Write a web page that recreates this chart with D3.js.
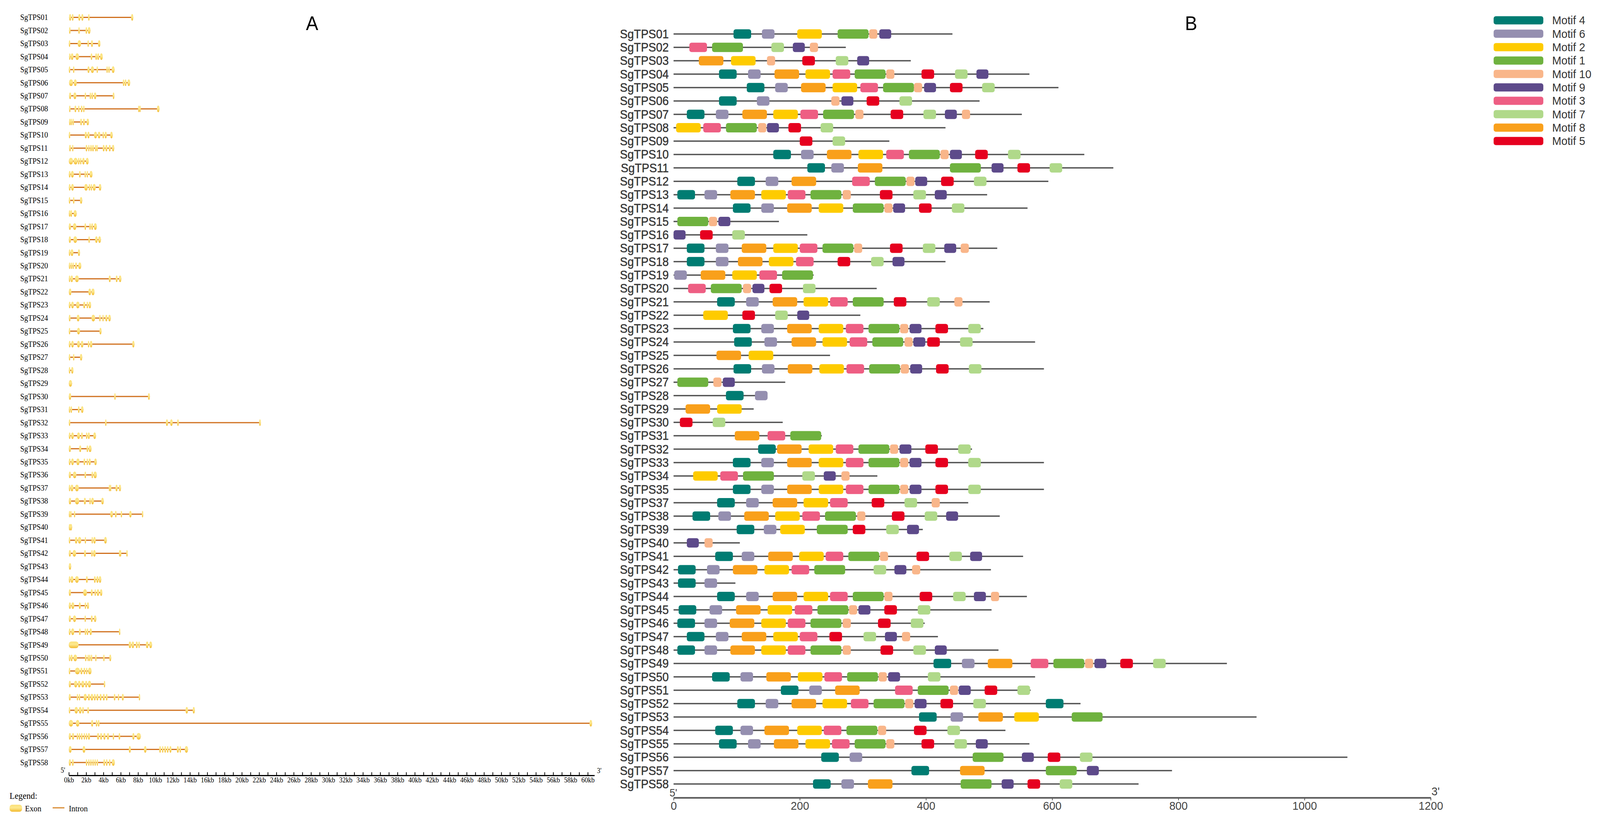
<!DOCTYPE html>
<html><head><meta charset="utf-8">
<script src="https://cdn.jsdelivr.net/npm/d3@7"></script>
<style>html,body{margin:0;padding:0;background:#fff;overflow:hidden;width:100%;height:100%;} svg{display:block;width:100vw;height:100vh;}</style>
</head><body>
<svg id="chart" viewBox="0 0 4347 2112" preserveAspectRatio="none"></svg>
<script>
// ---------------- DATA ----------------
const genesA = ["SgTPS01","SgTPS02","SgTPS03","SgTPS04","SgTPS05","SgTPS06","SgTPS07","SgTPS08","SgTPS09","SgTPS10",
"SgTPS11","SgTPS12","SgTPS13","SgTPS14","SgTPS15","SgTPS16","SgTPS17","SgTPS18","SgTPS19","SgTPS20",
"SgTPS21","SgTPS22","SgTPS23","SgTPS24","SgTPS25","SgTPS26","SgTPS27","SgTPS28","SgTPS29","SgTPS30",
"SgTPS31","SgTPS32","SgTPS33","SgTPS34","SgTPS35","SgTPS36","SgTPS37","SgTPS38","SgTPS39","SgTPS40",
"SgTPS41","SgTPS42","SgTPS43","SgTPS44","SgTPS45","SgTPS46","SgTPS47","SgTPS48","SgTPS49","SgTPS50",
"SgTPS51","SgTPS52","SgTPS53","SgTPS54","SgTPS55","SgTPS56","SgTPS57","SgTPS58"];

// exon [start, end] in kb, one list per gene (panel A)
const exonsA = [
[[0.03,0.27],[0.34,0.55],[1.09,1.34],[1.44,1.69],[2.23,2.36],[7.2,7.45]],
[[0.03,0.1],[1.09,1.27],[1.93,2.12],[2.19,2.5]],
[[0,0.1],[1.02,1.41],[2.15,2.29],[2.56,2.79],[3.37,3.65]],
[[0.03,0.16],[0.23,0.53],[0.77,1.17],[2.52,2.72],[3.06,3.26],[3.28,3.51],[3.61,3.92]],
[[0,0.1],[0.48,0.6],[2.15,2.4],[2.54,2.91],[3.2,3.35],[4.34,4.48],[4.56,4.72],[4.96,5.29]],
[[0.03,0.48],[0.58,0.91],[6.24,6.41],[6.45,6.67],[6.78,7.09]],
[[0.03,0.27],[0.53,0.87],[1.83,2.0],[2.4,2.54],[2.61,2.8],[2.9,3.18],[5.07,5.27]],
[[0.03,0.13],[0.65,0.87],[1.07,1.24],[1.38,1.58],[1.65,1.81],[8.0,8.09],[8.15,8.26],[10.19,10.48]],
[[0.03,0.13],[0.2,0.31],[0.41,0.58],[1.31,1.52],[1.63,1.86],[2.05,2.33]],
[[0,0.1],[1.83,2.09],[2.15,2.4],[2.91,3.26],[3.35,3.65],[3.89,4.07],[4.14,4.39],[4.79,5.07]],
[[0.03,0.24],[0.37,0.53],[1.93,2.15],[2.23,2.4],[2.47,2.66],[2.69,2.9],[3.01,3.11],[3.18,3.33],[3.91,4.14],[4.22,4.46],[4.61,4.85],[4.99,5.25]],
[[0,0.48],[0.55,1.01],[1.05,1.24],[1.29,1.44],[1.55,1.83],[1.97,2.29]],
[[0,0.2],[0.24,0.58],[1.17,1.38],[1.81,1.98],[2.05,2.23],[2.4,2.74]],
[[0,0.2],[0.27,0.58],[1.79,2.19],[2.29,2.47],[2.52,2.69],[2.76,3.11],[3.47,3.75]],
[[0,0.07],[0.48,0.58],[1.29,1.55]],
[[0,0.09],[0.17,0.38],[0.55,0.91]],
[[0,0.24],[0.48,0.87],[1.81,2.0],[2.37,2.52],[2.59,2.8],[2.9,3.23]],
[[0,0.24],[0.53,0.95],[2.26,2.4],[3.04,3.33],[3.4,3.71]],
[[0,0.06],[0.2,0.53],[1.05,1.29]],
[[0,0.09],[0.2,0.34],[0.41,0.55],[0.72,0.95],[1.09,1.44]],
[[0,0.13],[0.2,0.48],[0.72,1.15],[4.61,4.85],[5.42,5.64],[5.79,6.07]],
[[0,0.3],[2.26,2.57],[2.62,2.97]],
[[0,0.2],[0.27,0.58],[0.84,1.24],[1.66,1.9],[2.05,2.23],[2.29,2.57]],
[[0,0.2],[0.91,1.24],[2.62,3.04],[3.51,3.68],[3.87,4.04],[4.21,4.46],[4.56,4.85]],
[[0,0.09],[0.95,1.29],[3.54,3.78]],
[[0,0.2],[0.27,0.58],[0.95,1.29],[1.38,1.69],[2.19,2.37],[2.43,2.72],[7.33,7.59]],
[[0,0.09],[0.48,0.63],[1.29,1.55]],
[[0,0.16],[0.27,0.53]],
[[0,0.37]],
[[0,0.27],[5.25,5.3],[9.15,9.37]],
[[0,0.13],[0.2,0.38],[1.05,1.24],[1.41,1.69]],
[[0,0.1],[4.19,4.36],[11.22,11.47],[11.71,12.01],[12.52,12.72],[22.0,22.2]],
[[0,0.2],[0.27,0.58],[0.95,1.29],[1.41,1.62],[1.97,2.15],[2.19,2.43],[2.83,3.14]],
[[0,0.24],[1.19,1.44],[2.05,2.23],[2.29,2.62]],
[[0,0.2],[0.27,0.58],[0.87,1.24],[1.69,1.9],[2.05,2.19],[2.29,2.54],[2.94,3.23]],
[[0,0.24],[0.48,0.87],[1.81,2.0],[2.62,2.8],[2.86,3.23]],
[[0,0.13],[0.2,0.53],[0.72,1.15],[4.61,4.68],[4.75,4.82],[5.39,5.64],[5.79,6.03]],
[[0,0.27],[0.72,1.19],[1.73,1.98],[2.37,2.52],[2.59,2.9],[3.75,4.04]],
[[0,0.1],[0.16,0.24],[0.58,0.67],[4.79,5.1],[5.33,5.53],[5.99,6.17],[6.98,7.26],[8.44,8.54]],
[[0,0.07],[0.1,0.38]],
[[0,0.1],[0.7,0.98],[1.05,1.44],[1.83,2.0],[2.62,2.76],[2.83,3.11],[4.08,4.39]],
[[0,0.24],[0.44,0.84],[1.76,1.98],[2.59,2.72],[2.8,3.11],[5.79,5.84],[5.9,5.96],[6.64,6.75]],
[[0,0.27]],
[[0,0.13],[0.2,0.53],[0.72,1.15],[1.98,2.19],[2.9,3.11],[3.18,3.43],[3.47,3.75]],
[[0,0.24],[1.66,2.09],[2.54,2.76],[2.97,3.14],[3.23,3.51],[3.61,3.87]],
[[0,0.24],[0.3,0.63],[1.15,1.38],[1.83,2.0],[2.09,2.33]],
[[0,0.24],[0.48,0.84],[1.81,1.88],[2.54,2.76],[2.9,3.18]],
[[0,0.2],[0.27,0.63],[1.17,1.38],[1.83,1.98],[2.05,2.26],[2.4,2.66],[5.79,5.9]],
[[0,1.12],[6.92,7.21],[7.26,7.55],[7.73,7.97],[8.04,8.2],[8.91,9.2],[9.3,9.62]],
[[0,0.1],[0.2,0.44],[0.53,0.95],[1.86,2.05],[2.15,2.29],[2.33,2.47],[2.54,2.72],[3.04,3.14],[3.97,4.11],[4.68,4.9]],
[[0,0.1],[0.72,1.27],[1.34,1.58],[1.69,1.9],[1.98,2.15],[2.23,2.62]],
[[0,0.24],[0.61,0.98],[1.05,1.35],[1.44,1.79],[1.88,2.13],[2.2,2.57],[4.04,4.19]],
[[0,0.22],[0.91,1.0],[1.15,1.3],[1.71,2.08],[2.2,2.45],[2.52,2.82],[2.89,3.11],[3.18,3.43],[3.55,3.79],[3.92,4.16],[4.28,4.48],[5.19,5.39],[5.66,5.8],[6.12,6.36],[8.08,8.2]],
[[0,0.17],[0.66,1.05],[1.15,1.47],[1.54,1.74],[2.13,2.33],[13.49,13.78],[14.32,14.57]],
[[0,0.49],[0.81,1.22],[2.57,2.82],[3.11,3.3],[3.35,3.55],[60.2,60.5]],
[[0,0.24],[0.37,0.61],[0.91,1.05],[1.15,1.3],[1.4,1.59],[1.71,1.88],[1.96,2.13],[2.2,2.45],[3.26,3.5],[3.62,3.84],[3.99,4.24],[4.41,4.65],[5.07,5.22],[5.75,5.95],[7.34,7.59],[7.83,8.32]],
[[0,0.32],[1.59,1.91],[6.93,7.17],[8.69,8.98],[10.45,10.65],[10.77,10.94],[11.04,11.24],[11.33,11.53],[11.63,11.87],[12.48,12.73],[12.8,12.97],[13.41,13.78]],
[[0,0.24],[0.37,0.56],[1.96,2.13],[2.23,2.37],[2.47,2.62],[2.72,2.86],[2.96,3.11],[3.21,3.35],[3.99,4.19],[4.28,4.48],[4.63,4.82],[4.97,5.31]]
];

const kbTicks = d3.range(0, 61, 1);

const genesB = ["SgTPS01","SgTPS02","SgTPS03","SgTPS04","SgTPS05","SgTPS06","SgTPS07","SgTPS08","SgTPS09","SgTPS10",
"SgTPS11","SgTPS12","SgTPS13","SgTPS14","SgTPS15","SgTPS16","SgTPS17","SgTPS18","SgTPS19","SgTPS20",
"SgTPS21","SgTPS22","SgTPS23","SgTPS24","SgTPS25","SgTPS26","SgTPS27","SgTPS28","SgTPS29","SgTPS30",
"SgTPS31","SgTPS32","SgTPS33","SgTPS34","SgTPS35","SgTPS37","SgTPS38","SgTPS39","SgTPS40",
"SgTPS41","SgTPS42","SgTPS43","SgTPS44","SgTPS45","SgTPS46","SgTPS47","SgTPS48","SgTPS49","SgTPS50",
"SgTPS51","SgTPS52","SgTPS53","SgTPS54","SgTPS55","SgTPS56","SgTPS57","SgTPS58"];

// protein length (aa)
const protLenB = [442,273,376,564,610,485,552,431,342,651,697,594,497,561,167,212,513,431,222,322,
501,296,491,573,248,587,177,148,127,173,235,473,587,323,587,467,517,395,105,
554,503,98,560,504,398,419,515,877,573,566,645,924,526,564,1068,790,737];

// motif [motif number, start aa]
const motifsB = [
[[4,95],[6,140],[2,196],[1,260],[10,310],[9,326]],
[[3,25],[1,61],[7,155],[9,189],[10,216]],
[[8,40],[2,91],[10,148],[5,204],[7,257],[9,291]],
[[4,72],[6,118],[8,160],[2,209],[3,252],[1,287],[10,337],[5,393],[7,446],[9,480]],
[[4,116],[6,161],[8,202],[2,252],[3,296],[1,332],[10,381],[9,397],[5,438],[7,489]],
[[4,72],[6,132],[10,250],[9,266],[5,306],[7,358]],
[[4,21],[6,67],[8,109],[2,158],[3,201],[1,237],[10,288],[5,344],[7,396],[9,430],[10,457]],
[[2,4],[3,47],[1,83],[10,134],[9,148],[5,182],[7,233]],
[[5,200],[7,252]],
[[4,158],[6,202],[8,243],[2,293],[3,337],[1,373],[10,423],[9,438],[5,478],[7,530]],
[[4,212],[6,250],[8,292],[1,438],[9,504],[5,545],[7,596]],
[[4,101],[6,146],[8,187],[3,283],[1,319],[10,369],[9,383],[5,424],[7,476]],
[[4,6],[6,49],[8,90],[2,139],[3,181],[1,217],[10,268],[5,327],[7,380],[9,414]],
[[4,94],[6,139],[8,180],[2,230],[1,284],[10,334],[9,348],[5,389],[7,441]],
[[1,6],[10,56],[9,71]],
[[9,0],[5,42],[7,93]],
[[4,21],[6,67],[8,108],[2,158],[3,200],[1,236],[10,286],[5,343],[7,395],[9,429],[10,455]],
[[4,21],[6,67],[8,102],[2,151],[3,194],[5,260],[7,313],[9,347]],
[[6,1],[8,43],[2,93],[3,136],[1,172]],
[[3,23],[1,59],[10,110],[9,125],[5,152],[7,205]],
[[4,69],[6,115],[8,157],[2,206],[3,248],[1,284],[5,349],[7,402],[10,445]],
[[2,47],[5,109],[7,161],[9,196]],
[[4,94],[6,139],[8,180],[2,230],[3,273],[1,309],[10,359],[9,374],[5,415],[7,467]],
[[4,96],[6,144],[8,187],[2,236],[3,279],[1,315],[10,366],[9,380],[5,402],[7,454]],
[[8,68],[2,119]],
[[4,95],[6,140],[8,181],[2,231],[3,274],[1,310],[10,360],[9,375],[5,416],[7,468]],
[[1,6],[10,63],[9,78]],
[[4,83],[6,129]],
[[8,19],[2,69]],
[[5,10],[7,62]],
[[8,97],[3,149],[1,185]],
[[4,134],[8,164],[2,214],[3,257],[1,293],[10,343],[9,358],[5,399],[7,451]],
[[4,94],[6,139],[8,180],[2,230],[3,273],[1,309],[10,359],[9,374],[5,415],[7,467]],
[[2,31],[3,74],[1,110],[7,204],[9,238],[10,266]],
[[4,94],[6,139],[8,180],[2,230],[3,273],[1,309],[10,359],[9,374],[5,415],[7,467]],
[[4,69],[6,115],[8,157],[2,206],[3,248],[5,314],[7,366],[10,409]],
[[4,30],[6,71],[8,112],[2,161],[3,204],[1,240],[10,291],[5,346],[7,398],[9,432]],
[[4,100],[6,143],[2,169],[1,227],[5,284],[7,337],[9,370]],
[[9,21],[10,49]],
[[4,66],[6,108],[8,150],[2,199],[3,241],[1,277],[10,327],[5,385],[7,437],[9,470]],
[[4,7],[6,53],[8,94],[2,144],[3,187],[1,223],[7,317],[9,350],[10,378]],
[[4,7],[6,49]],
[[4,69],[6,115],[8,157],[2,206],[3,248],[1,284],[10,334],[5,390],[7,443],[9,476],[10,503]],
[[4,8],[6,57],[8,99],[2,149],[3,192],[1,228],[10,278],[9,293],[5,334],[7,387]],
[[4,6],[6,49],[8,89],[2,139],[3,181],[1,217],[10,268],[5,324],[7,376]],
[[4,21],[6,67],[8,108],[2,158],[3,200],[5,247],[7,301],[9,335],[10,362]],
[[4,6],[6,49],[8,90],[2,139],[3,181],[1,217],[10,268],[5,328],[7,380],[9,414]],
[[4,412],[6,457],[8,498],[3,566],[1,602],[10,652],[9,667],[5,708],[7,760]],
[[4,61],[6,106],[8,147],[2,197],[3,239],[1,275],[10,325],[9,340],[7,403]],
[[4,170],[6,215],[8,256],[3,351],[1,387],[10,438],[9,452],[5,493],[7,545]],
[[4,101],[6,146],[8,187],[2,236],[3,281],[1,317],[10,367],[9,382],[5,423],[7,475],[4,590]],
[[4,389],[6,439],[8,483],[2,540],[1,631]],
[[4,66],[6,106],[8,144],[2,196],[3,238],[1,274],[10,324],[5,381],[7,434]],
[[4,72],[6,118],[8,159],[2,209],[3,251],[1,287],[10,337],[5,393],[7,445],[9,479]],
[[4,234],[6,279],[1,474],[9,552],[5,593],[7,644]],
[[4,377],[8,454],[1,590],[9,655]],
[[4,221],[6,266],[8,308],[1,455],[9,520],[5,561],[7,612]]
];

// legend order, colours and motif lengths (aa)
const motifOrder  = [4, 6, 2, 1, 10, 9, 3, 7, 8, 5];
const motifColors = ["#007c72","#958fb0","#fecb00","#6fb23f","#f9b68a","#5d4a8a","#ee5e83","#b0d98a","#f9a01b","#e6001f"];
const motifLength = [28, 20, 39, 49, 13, 19, 28, 20, 39, 20];
const aaTicks = [0, 200, 400, 600, 800, 1000, 1200];

// ---------------- DRAW ----------------
const svg = d3.select("#chart");
svg.append("rect").attr("width",4347).attr("height",2112).attr("fill","#fff");

const defs = svg.append("defs");
const g1 = defs.append("linearGradient").attr("id","exonGrad").attr("x1",0).attr("y1",0).attr("x2",0).attr("y2",1);
g1.append("stop").attr("offset","0%").attr("stop-color","#fbe07a");
g1.append("stop").attr("offset","45%").attr("stop-color","#fde98f");
g1.append("stop").attr("offset","100%").attr("stop-color","#f2b92e");

const serif = "'Liberation Serif','Times New Roman',serif";
const sans = "'Liberation Sans',Arial,sans-serif";

// ---- Panel A ----
const xA = d3.scaleLinear().domain([0, 60.77]).range([187, 1615]);
const yA = d3.scalePoint().domain(genesA).range([44.5, 1952]);
const gA = svg.append("g");

gA.selectAll("text.lab").data(genesA).join("text")
  .attr("x", 55).attr("y", d => yA(d)).attr("dominant-baseline","central")
  .attr("font-family", serif).attr("font-size", 20).attr("fill","#000").text(d => d);

const rowsA = gA.selectAll("g.row").data(genesA).join("g")
  .attr("transform", d => `translate(0,${yA(d)})`);
rowsA.append("line")
  .attr("x1", (d,i) => xA(exonsA[i][0][0]))
  .attr("x2", (d,i) => xA(d3.max(exonsA[i], e => e[1])))
  .attr("stroke","#d0701e").attr("stroke-width",3);
rowsA.each(function(d,i){
  d3.select(this).selectAll("rect").data(exonsA[i]).join("rect")
    .attr("x", e => xA(e[0]))
    .attr("width", e => Math.max(xA(e[1]) - xA(e[0]), 4))
    .attr("y", -8.5).attr("height", 17)
    .attr("rx", e => Math.min(Math.max(xA(e[1]) - xA(e[0]), 4)/2, 7)).attr("ry", 7)
    .attr("fill","url(#exonGrad)");
});

const axA = gA.append("g").attr("transform","translate(0,1985)")
  .call(d3.axisBottom(xA).tickValues(kbTicks).tickSize(-8).tickSizeOuter(0).tickPadding(5)
    .tickFormat(d => d % 2 === 0 ? d + "kb" : ""));
axA.select(".domain").attr("stroke","#000").attr("stroke-width",3);
axA.selectAll(".tick line").attr("stroke","#000").attr("stroke-width",2);
axA.selectAll(".tick text").attr("font-family", serif).attr("font-size",18).attr("fill","#000");

gA.append("text").attr("x",171).attr("y",1972).attr("text-anchor","middle").attr("dominant-baseline","central")
  .attr("font-family",serif).attr("font-size",18).text("5'");
gA.append("text").attr("x",1622).attr("y",1973).attr("dominant-baseline","central")
  .attr("font-family",serif).attr("font-size",18).text("3'");

// legend A
gA.append("text").attr("x",26).attr("y",2037).attr("dominant-baseline","central")
  .attr("font-family",serif).attr("font-size",23).text("Legend:");
gA.append("rect").attr("x",26).attr("y",2060).attr("width",34).attr("height",18).attr("rx",7)
  .attr("fill","url(#exonGrad)");
gA.append("text").attr("x",68).attr("y",2070).attr("dominant-baseline","central")
  .attr("font-family",serif).attr("font-size",21).text("Exon");
gA.append("line").attr("x1",143).attr("x2",175).attr("y1",2068).attr("y2",2068)
  .attr("stroke","#d88a30").attr("stroke-width",3);
gA.append("text").attr("x",187).attr("y",2070).attr("dominant-baseline","central")
  .attr("font-family",serif).attr("font-size",21).text("Intron");

svg.append("text").attr("x",848).attr("y",77).attr("text-anchor","middle")
  .attr("font-family",sans).attr("font-size",50).attr("fill","#000").text("A");

// ---- Panel B ----
const xB = d3.scaleLinear().domain([0, 1200]).range([1830, 3887]);
const yB = d3.scalePoint().domain(genesB).range([87, 2007]);
const colorOf = d3.scaleOrdinal().domain(motifOrder).range(motifColors);
const lenOf = d3.scaleOrdinal().domain(motifOrder).range(motifLength);
const gB = svg.append("g");

gB.selectAll("text.lab").data(genesB).join("text")
  .attr("x", 1817).attr("y", d => yB(d)).attr("text-anchor","end").attr("dominant-baseline","central")
  .attr("font-family", sans).attr("font-size", 31).attr("fill","#383838")
  .attr("stroke","#383838").attr("stroke-width",0.6).text(d => d);

const rowsB = gB.selectAll("g.row").data(genesB).join("g")
  .attr("transform", d => `translate(0,${yB(d)})`);
rowsB.append("line")
  .attr("x1", xB(0)).attr("x2", (d,i) => xB(protLenB[i]))
  .attr("stroke","#555").attr("stroke-width",3.5);
rowsB.each(function(d,i){
  d3.select(this).selectAll("rect").data(motifsB[i]).join("rect")
    .attr("x", m => xB(m[1]))
    .attr("width", m => xB(m[1] + lenOf(m[0])) - xB(m[1]))
    .attr("y", -12).attr("height", 24).attr("rx", 6)
    .attr("fill", m => colorOf(m[0]));
});

const axB = gB.append("g").attr("transform","translate(0,2042)")
  .call(d3.axisBottom(xB).tickValues(aaTicks).tickSize(7).tickSizeOuter(0).tickPadding(3)
    .tickFormat(d3.format("d")));
axB.select(".domain").attr("stroke","#555").attr("stroke-width",4);
axB.selectAll(".tick line").attr("stroke","#555").attr("stroke-width",2);
axB.selectAll(".tick text").attr("font-family", sans).attr("font-size",30).attr("fill","#444");

gB.append("text").attr("x",1819).attr("y",2039)
  .attr("font-family",sans).attr("font-size",28).attr("fill","#444").text("5'");
gB.append("text").attr("x",3889).attr("y",2036)
  .attr("font-family",sans).attr("font-size",30).attr("fill","#444").text("3'");

svg.append("text").attr("x",3236).attr("y",77).attr("text-anchor","middle")
  .attr("font-family",sans).attr("font-size",50).attr("fill","#000").text("B");

// legend B
const lg = svg.append("g");
const yL = d3.scalePoint().domain(motifOrder).range([52, 361]);
lg.selectAll("rect").data(motifOrder).join("rect")
  .attr("x",4058).attr("y", d => yL(d) - 10.5).attr("width",135).attr("height",21).attr("rx",6)
  .attr("fill", d => colorOf(d));
lg.selectAll("text").data(motifOrder).join("text")
  .attr("x",4217).attr("y", d => yL(d)).attr("dominant-baseline","central")
  .attr("font-family",sans).attr("font-size",30).attr("fill","#333")
  .text(d => "Motif " + d);
</script>
</body></html>
